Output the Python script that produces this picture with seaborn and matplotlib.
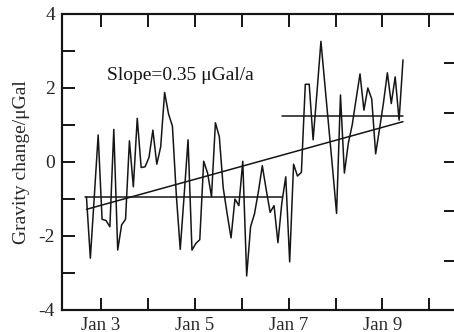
import numpy as np
import pandas as pd
import matplotlib
matplotlib.use("Agg")
import matplotlib.pyplot as plt
import matplotlib.dates as mdates
from matplotlib.ticker import MultipleLocator, FuncFormatter
import seaborn as sns

# gravity residuals, sampled every 2 hours
start_time = "2010-01-02 16:30"
step = "2h"
gravity = [
    -0.94, -2.60, -0.95, 0.73, -1.55, -1.58, -1.75, 0.88, -2.38, -1.70,
    -1.55, 0.57, -0.67, 1.18, -0.15, -0.13, 0.12, 0.86, -0.06, 0.41,
    1.88, 1.30, 0.97, -0.90, -2.36, -0.90, 0.60, -2.38, -2.20, -2.10,
    0.02, -0.30, -0.94, 1.06, 0.68, -0.70, -1.40, -2.05, -1.00, -1.18,
    0.02, -3.08, -1.75, -1.40, -0.80, -0.10, -0.75, -1.36, -1.18, -2.18,
    -1.10, -0.40, -2.70, -0.06, -0.38, -0.28, 2.10, 2.10, 0.60, 1.90,
    3.26, 2.10, 0.95, -0.20, -1.39, 1.81, -0.30, 0.50, 1.00, 1.70,
    2.38, 1.40, 2.00, 1.70, 0.22, 0.90, 1.60, 2.41, 1.58, 2.30,
    1.13, 2.76,
]

# mean level before / after the step
mean_start = ["2010-01-02 16:00", "2010-01-06 20:40"]
mean_end = ["2010-01-06 20:40", "2010-01-09 10:20"]
mean_level = [-0.94, 1.24]

# linear trend end values
trend_val = [-1.28, 1.09]
slope_text = "Slope=0.35 μGal/a"

times = pd.date_range(start_time, periods=len(gravity), freq=step)
df = pd.DataFrame({"time": times, "gravity": gravity})

sns.set_style("ticks")
plt.rcParams["font.family"] = ["Liberation Serif", "DejaVu Serif"]

fig = plt.figure(figsize=(4.54, 3.32), dpi=100)
ax = fig.add_axes([0.1366, 0.0663, 0.868, 0.8916])

line_col = "#151515"
sns.lineplot(data=df, x="time", y="gravity", ax=ax, color=line_col, lw=1.1)

for s, e, lv in zip(mean_start, mean_end, mean_level):
    ax.plot([pd.Timestamp(s), pd.Timestamp(e)], [lv, lv], color=line_col, lw=1.1)

ax.plot([times[0], times[-1]], trend_val, color=line_col, lw=1.1)

ax.text(pd.Timestamp("2010-01-03 03:00"), 2.35, slope_text, fontsize=14,
        va="center", ha="left", color=line_col)

ax.set_xlim(pd.Timestamp("2010-01-02 04:00"), pd.Timestamp("2010-01-10 13:40"))
ax.set_ylim(-4, 4)
ax.xaxis.set_major_locator(mdates.DayLocator(bymonthday=[3, 5, 7, 9]))
ax.xaxis.set_minor_locator(mdates.DayLocator())
ax.xaxis.set_major_formatter(
    FuncFormatter(lambda v, p: f"Jan {mdates.num2date(v).day}"))
ax.yaxis.set_major_locator(MultipleLocator(2))
ax.yaxis.set_minor_locator(MultipleLocator(1))
ax.set_yticklabels
ax.yaxis.set_major_formatter(FuncFormatter(lambda v, p: f"{v:g}"))

ax.tick_params(axis="both", which="both", direction="in", length=9,
               width=1.4, color=line_col, top=True, right=False)
ax.tick_params(axis="x", labelsize=13.5, pad=5)
ax.tick_params(axis="y", labelsize=14, pad=5)
ax.set_xlabel("")
ax.set_ylabel("Gravity change/μGal", fontsize=14, labelpad=6)

ax2 = ax.twinx()
ax2.set_ylim(-3, 3)
ax2.yaxis.set_major_locator(MultipleLocator(1))
ax2.tick_params(axis="y", direction="in", length=9, width=1.4,
                color=line_col, labelright=False)

for a in (ax, ax2):
    for sp in a.spines.values():
        sp.set_visible(True)
        sp.set_linewidth(1.5)
        sp.set_color(line_col)

fig.savefig("out.png", dpi=100)
